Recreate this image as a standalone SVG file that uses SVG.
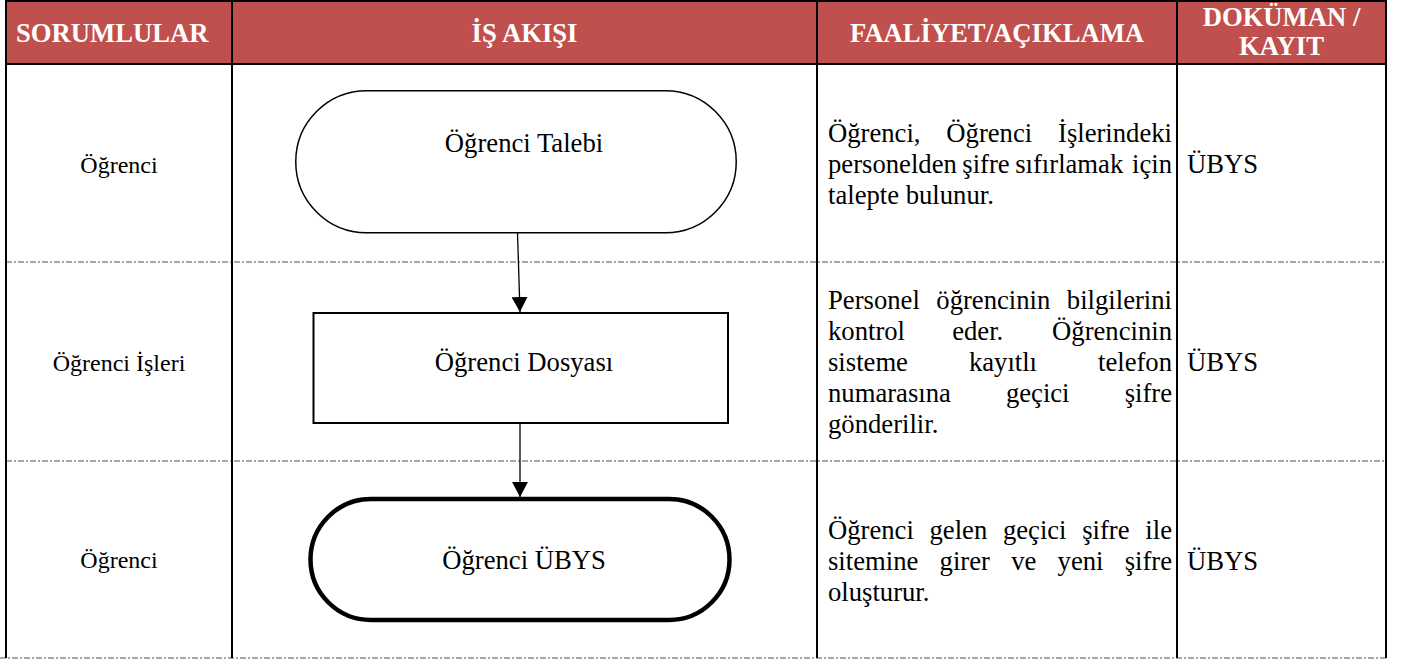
<svg xmlns="http://www.w3.org/2000/svg" width="1404" height="661" viewBox="0 0 1404 661">
<style>
.hdr{font-family:"Liberation Serif","Times New Roman",serif;font-size:26.67px;font-weight:bold;fill:#ffffff;}
.side{font-family:"Liberation Serif","Times New Roman",serif;font-size:24px;fill:#000;}
.node{font-family:"Liberation Serif","Times New Roman",serif;font-size:26.67px;fill:#000;}
.desc{font-family:"Liberation Serif","Times New Roman",serif;font-size:26.67px;fill:#000;}
.grid{stroke:#000;stroke-width:2;fill:none;}
.dash{stroke:#555;stroke-width:1.2;stroke-dasharray:6 2 2 2;fill:none;}
.conn{stroke:#000;stroke-width:1.3;fill:none;}
</style>
<defs>
<marker id="arr" markerWidth="16" markerHeight="16" refX="15" refY="8" orient="auto" markerUnits="userSpaceOnUse">
<path d="M0,0 L15,8 L0,16 Z" fill="#000"/>
</marker>
</defs>
<rect width="1404" height="661" fill="#fff"/>
<g id="table">
<rect x="6" y="1" width="1380" height="63" fill="#C0504D"/>
<line class="dash" x1="6" y1="262" x2="1386" y2="262"/>
<line class="dash" x1="6" y1="461" x2="1386" y2="461"/>
<line class="dash" x1="0" y1="658" x2="1386" y2="658"/>
<line class="grid" x1="5" y1="1" x2="1387" y2="1"/>
<line class="grid" x1="5" y1="64" x2="1387" y2="64"/>
<line class="grid" x1="6" y1="0" x2="6" y2="658"/>
<line class="grid" x1="232" y1="0" x2="232" y2="658"/>
<line class="grid" x1="817" y1="0" x2="817" y2="658"/>
<line class="grid" x1="1177" y1="0" x2="1177" y2="658"/>
<line class="grid" x1="1386" y1="0" x2="1386" y2="658"/>
<text class="hdr" x="16" y="42">SORUMLULAR</text>
<text class="hdr" x="524.5" y="42" text-anchor="middle">İŞ AKIŞI</text>
<text class="hdr" x="997" y="42" text-anchor="middle">FAALİYET/AÇIKLAMA</text>
<text class="hdr" x="1281.5" y="26" text-anchor="middle">DOKÜMAN /</text>
<text class="hdr" x="1281.5" y="55" text-anchor="middle">KAYIT</text>
</g>
<g id="responsibles">
<text class="side" x="119" y="173" text-anchor="middle">Öğrenci</text>
<text class="side" x="119" y="371" text-anchor="middle">Öğrenci İşleri</text>
<text class="side" x="119" y="568" text-anchor="middle">Öğrenci</text>
</g>
<g id="connectors">
<line class="conn" x1="517.5" y1="233" x2="520" y2="312" marker-end="url(#arr)"/>
<line class="conn" x1="520" y1="423" x2="520" y2="497" marker-end="url(#arr)"/>
</g>
<g id="n1">
<rect x="295.75" y="90.75" width="440.5" height="142" rx="71" ry="71" fill="#fff" stroke="#000" stroke-width="1.5"/>
<text class="node" x="524" y="152" text-anchor="middle">Öğrenci Talebi</text>
</g>
<g id="n2">
<rect x="313.5" y="313" width="414.5" height="110" fill="#fff" stroke="#000" stroke-width="2"/>
<text class="node" x="524" y="371" text-anchor="middle">Öğrenci Dosyası</text>
</g>
<g id="n3">
<rect x="310.5" y="499" width="419" height="121" rx="60.5" ry="60.5" fill="#fff" stroke="#000" stroke-width="4.5"/>
<text class="node" x="524" y="569" text-anchor="middle">Öğrenci ÜBYS</text>
</g>
<g id="desc1">
<text class="desc" y="142"><tspan x="828">Öğrenci,</tspan><tspan x="946.3">Öğrenci</tspan></text>
<text class="desc" y="142" x="1172" text-anchor="end">İşlerindeki</text>
<text class="desc" y="173"><tspan x="828">personelden</tspan><tspan x="962.3">şifre</tspan><tspan x="1015.2">sıfırlamak</tspan></text>
<text class="desc" y="173" x="1172" text-anchor="end">için</text>
<text class="desc" x="828" y="204">talepte bulunur.</text>
<text class="desc" x="1187" y="173">ÜBYS</text>
</g>
<g id="desc2">
<text class="desc" y="309"><tspan x="828">Personel</tspan><tspan x="936.3">öğrencinin</tspan></text>
<text class="desc" y="309" x="1172" text-anchor="end">bilgilerini</text>
<text class="desc" y="340"><tspan x="828">kontrol</tspan><tspan x="952.2">eder.</tspan></text>
<text class="desc" y="340" x="1172" text-anchor="end">Öğrencinin</text>
<text class="desc" y="371"><tspan x="828">sisteme</tspan><tspan x="968.9">kayıtlı</tspan></text>
<text class="desc" y="371" x="1172" text-anchor="end">telefon</text>
<text class="desc" y="402"><tspan x="828">numarasına</tspan><tspan x="1005.9">geçici</tspan></text>
<text class="desc" y="402" x="1172" text-anchor="end">şifre</text>
<text class="desc" x="828" y="433">gönderilir.</text>
<text class="desc" x="1187" y="371">ÜBYS</text>
</g>
<g id="desc3">
<text class="desc" y="539"><tspan x="828">Öğrenci</tspan><tspan x="929.5">gelen</tspan><tspan x="1002.9">geçici</tspan><tspan x="1082.2">şifre</tspan></text>
<text class="desc" y="539" x="1172" text-anchor="end">ile</text>
<text class="desc" y="570"><tspan x="828">sitemine</tspan><tspan x="939.6">girer</tspan><tspan x="1011.2">ve</tspan><tspan x="1057.6">yeni</tspan></text>
<text class="desc" y="570" x="1172" text-anchor="end">şifre</text>
<text class="desc" x="828" y="601">oluşturur.</text>
<text class="desc" x="1187" y="570">ÜBYS</text>
</g>
</svg>
